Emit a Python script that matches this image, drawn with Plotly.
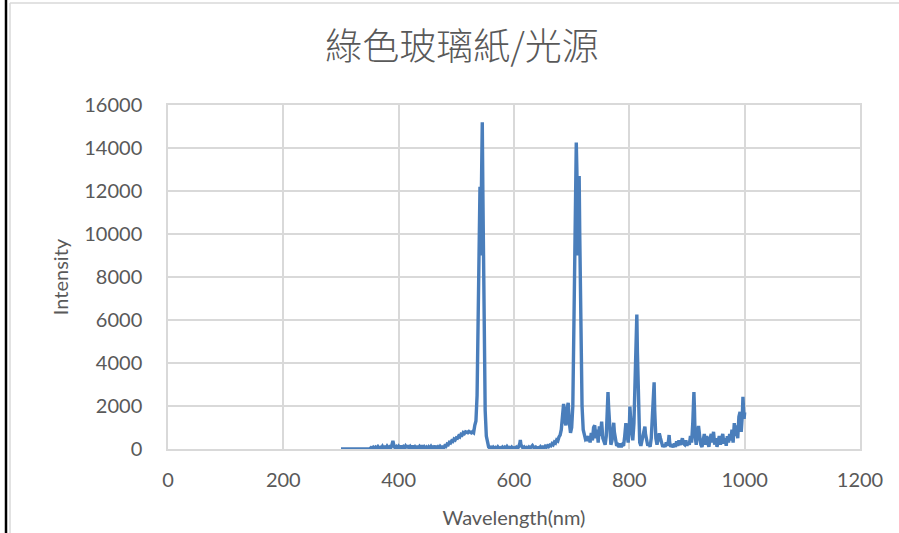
import plotly.graph_objects as go

# spectrum (wavelength in nm, intensity in counts)
wavelength = [
    300, 310, 320, 330, 340, 350, 352, 354, 356, 358, 360, 362, 364, 366, 368, 370,
    372, 374, 376, 378, 380, 382, 384, 386, 388, 390, 392, 394, 396, 398, 400, 402,
    404, 406, 408, 410, 412, 414, 416, 418, 420, 422, 424, 426, 428, 430, 432, 434,
    436, 438, 440, 442, 444, 446, 448, 450, 452, 454, 456, 458, 460, 462, 464, 466,
    468, 470, 472, 474, 476, 478, 480, 482, 484, 486, 488, 490, 492, 494, 496, 498,
    500, 502, 504, 506, 508, 510, 512, 514, 516, 518, 520, 522, 524, 526, 528, 530,
    532, 534, 536, 538, 540, 541, 542, 543, 544, 545, 546, 547, 548, 550, 552, 554,
    556, 558, 560, 562, 564, 566, 568, 570, 572, 574, 576, 578, 580, 582, 584, 586,
    588, 590, 592, 594, 596, 598, 600, 602, 604, 606, 608, 610, 611, 612, 614, 616,
    618, 620, 622, 624, 626, 628, 630, 632, 634, 636, 638, 640, 642, 644, 646, 648,
    650, 652, 654, 656, 658, 660, 662, 664, 666, 668, 670, 672, 674, 676, 678, 680,
    682, 684, 686, 688, 690, 692, 694, 696, 698, 700, 702, 704, 706, 707, 708, 709,
    710, 711, 712, 713, 714, 716, 718, 720, 722, 724, 726, 728, 730, 732, 734, 736,
    738, 740, 742, 744, 746, 748, 750, 752, 754, 756, 758, 760, 762, 763, 764, 766,
    768, 770, 772, 773, 774, 776, 778, 780, 782, 784, 786, 788, 790, 792, 794, 796,
    798, 800, 801, 802, 804, 806, 808, 810, 812, 813, 814, 816, 818, 820, 822, 824,
    826, 827, 828, 830, 832, 834, 836, 838, 840, 842, 843, 844, 846, 848, 850, 852,
    854, 856, 858, 860, 862, 864, 866, 868, 869, 870, 872, 874, 876, 878, 880, 882,
    884, 886, 888, 890, 892, 894, 896, 898, 900, 902, 904, 906, 908, 910, 911, 912,
    913, 914, 916, 918, 920, 922, 924, 926, 928, 930, 932, 934, 936, 938, 940, 942,
    944, 946, 948, 950, 952, 954, 956, 958, 960, 962, 964, 966, 968, 970, 972, 974,
    976, 978, 980, 982, 984, 986, 988, 990, 992, 994, 996, 997, 998, 999, 1000,
]
intensity = [
    5, 5, 6, 5, 8, 10, 60, 20, 80, 30, 90, 40, 110, 30, 70, 20,
    120, 40, 90, 30, 130, 50, 100, 40, 160, 380, 120, 50, 110, 40, 130, 60,
    150, 50, 110, 40, 140, 60, 170, 50, 120, 40, 150, 60, 110, 30, 140, 50,
    120, 40, 160, 60, 110, 30, 90, 20, 100, 40, 120, 30, 90, 50, 140, 40,
    100, 30, 120, 60, 90, 40, 150, 120, 230, 200, 310, 280, 380, 350, 460, 420,
    520, 500, 600, 560, 680, 650, 760, 720, 800, 780, 760, 820, 780, 750, 800, 760,
    1100, 1300, 2500, 7000, 12100, 12200, 9000, 11000, 14000, 15200, 12000, 8000, 4500, 1800, 600, 250,
    100, 40, 80, 20, 90, 30, 70, 20, 100, 30, 60, 20, 90, 30, 80, 20,
    110, 40, 70, 20, 90, 30, 60, 20, 80, 30, 100, 250, 420, 200, 60, 20,
    90, 30, 70, 20, 90, 40, 100, 160, 80, 30, 90, 40, 60, 30, 110, 50,
    90, 60, 130, 80, 150, 110, 180, 150, 250, 200, 320, 280, 420, 380, 560, 650,
    900, 1500, 2100, 1300, 1100, 1900, 2150, 1200, 750, 1000, 2000, 6000, 11000, 13500, 14250, 13000,
    10500, 9000, 11500, 12700, 10000, 5000, 2000, 900, 600, 450, 500, 380, 600, 300, 750, 400,
    1000, 1100, 500, 900, 300, 1050, 600, 1270, 500, 300, 200, 600, 1800, 2650, 2000, 600,
    200, 400, 1000, 1220, 800, 300, 150, 200, 100, 250, 100, 200, 150, 600, 1200, 700,
    300, 1000, 1970, 1500, 900, 400, 1200, 3500, 5800, 6250, 4500, 1500, 300, 150, 400, 700,
    1000, 1040, 700, 300, 150, 250, 100, 500, 1500, 3000, 3100, 1800, 500, 200, 400, 730,
    500, 200, 100, 200, 100, 300, 150, 400, 650, 300, 100, 200, 80, 250, 100, 350,
    150, 400, 200, 300, 500, 250, 200, 400, 150, 300, 200, 600, 300, 1200, 2000, 2650,
    1800, 600, 200, 700, 1070, 600, 200, 100, 400, 700, 200, 600, 300, 100, 500, 700,
    300, 800, 200, 500, 100, 300, 600, 200, 400, 700, 250, 500, 150, 600, 300, 700,
    400, 900, 300, 1200, 600, 1100, 500, 1500, 1730, 800, 1600, 2430, 1900, 1400, 1700,
]

x_ticks = [0, 200, 400, 600, 800, 1000, 1200]
y_ticks = [0, 2000, 4000, 6000, 8000, 10000, 12000, 14000, 16000]

GRID = "#d9d9d9"
TXT = "#595959"
LINE = "#4a7ebb"

W, H = 899, 533
L, R, T, B = 168, 39, 105, 84
pw, ph = W - L - R, H - T - B


def px(x):  # pixel -> paper x
    return (x - L) / pw


def py(y):  # pixel -> paper y
    return (H - B - y) / ph


fig = go.Figure(go.Scatter(x=wavelength, y=intensity, mode="lines",
                           line=dict(color=LINE, width=3.4), hoverinfo="x+y"))

fig.update_layout(
    width=W, height=H, margin=dict(l=L, r=R, t=T, b=B, autoexpand=False),
    paper_bgcolor="white", plot_bgcolor="white", showlegend=False,
    font=dict(family="Lato, Open Sans, sans-serif", size=20, color=TXT),
    title=dict(text="綠色玻璃紙/光源", x=0.514, xanchor="center", y=0.912, yanchor="middle",
               font=dict(family="Noto Sans CJK TC", size=37, color=TXT, weight=300)),
)
fig.update_xaxes(range=[0, 1200], tickvals=x_ticks, ticktext=[str(v) for v in x_ticks],
                 showgrid=True, gridcolor=GRID, gridwidth=1.5, zeroline=False,
                 showline=True, linecolor=GRID, linewidth=1.5, mirror=True,
                 ticks="", ticklabelstandoff=12, automargin=False,
                 title=dict(text="Wavelength(nm)", font=dict(size=20, color=TXT), standoff=21))
fig.update_yaxes(range=[0, 16000], tickvals=y_ticks, ticktext=[str(v) for v in y_ticks],
                 showgrid=True, gridcolor=GRID, gridwidth=1.5, zeroline=False,
                 showline=True, linecolor=GRID, linewidth=1.5, mirror=True,
                 ticks="", ticklabelstandoff=20, automargin=False,
                 title=dict(text="Intensity", font=dict(size=20, color=TXT), standoff=10))

# chart frame: black edge on the left, light grey outline of the chart box
fig.add_shape(type="line", xref="paper", yref="paper", x0=px(6), x1=px(6), y0=py(0), y1=py(H),
              line=dict(color="black", width=2.5))
fig.add_shape(type="line", xref="paper", yref="paper", x0=px(10), x1=px(10), y0=py(3), y1=py(H),
              line=dict(color=GRID, width=1.5))
fig.add_shape(type="line", xref="paper", yref="paper", x0=px(10), x1=px(W), y0=py(3), y1=py(3),
              line=dict(color=GRID, width=1.5))

# drop the page's default 8px body margin so the figure sits at the window's corner
fig.write_html("out.html", config={"displayModeBar": False},
               post_script="document.body.style.margin='0';")
